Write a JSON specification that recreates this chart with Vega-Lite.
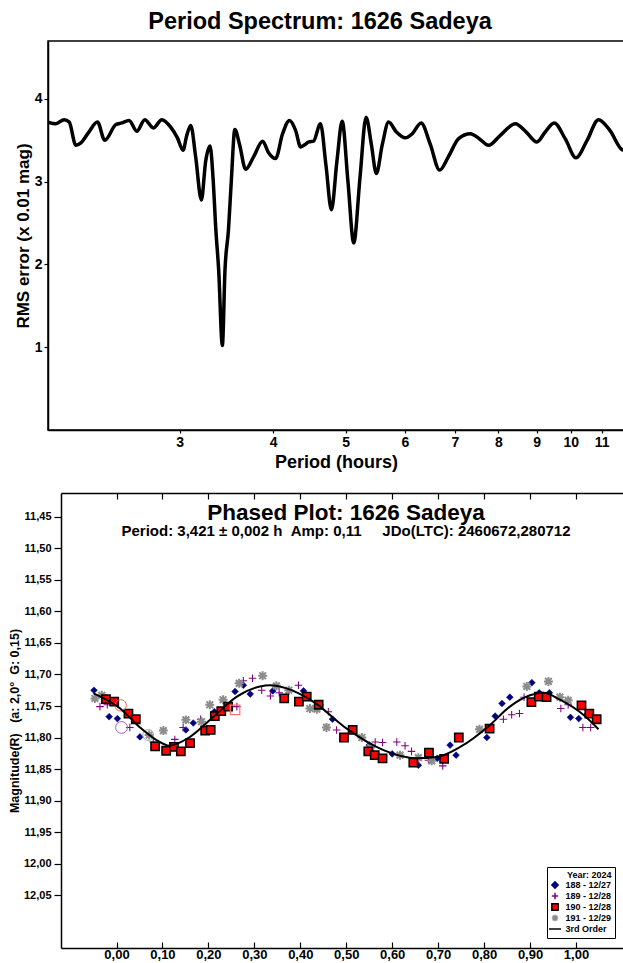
{
  "$schema": "https://vega.github.io/schema/vega-lite/v6.json",
  "padding": {"left": 8, "top": 8, "right": 0, "bottom": 0},
  "background": "white",
  "spacing": 20,
  "resolve": {"legend": {"shape": "independent", "fill": "independent", "stroke": "independent"}},
  "config": {
    "font": "Liberation Sans",
    "view": {"stroke": "black", "strokeWidth": 1.5},
    "axis": {
      "grid": false,
      "domainColor": "black",
      "domainWidth": 1.5,
      "tickColor": "black",
      "tickWidth": 1.2,
      "labelColor": "black",
      "labelFontWeight": "bold",
      "titleColor": "black",
      "titleFontWeight": "bold",
      "labelFlush": false,
      "labelOverlap": false
    },
    "legend": {
      "orient": "none", "legendX": 499, "legendY": 374,
      "titleFontSize": 9, "titleFontWeight": "bold", "titleColor": "black", "titleAnchor": "end", "titlePadding": 1,
      "labelFontSize": 9, "labelFontWeight": "bold", "labelColor": "black", "labelOffset": 6,
      "rowPadding": -4, "padding": 3.5, "strokeColor": "black", "fillColor": "white",
      "symbolSize": 40, "symbolStrokeWidth": 1.5, "symbolOpacity": 1
    },
    "title": {"color": "black", "fontWeight": "bold", "subtitleColor": "black", "subtitleFontWeight": "bold"}
  },
  "datasets": {
    "spectrum": [
      {"period": 2.0, "rms": 3.72}, {"period": 2.049, "rms": 3.70}, {"period": 2.102, "rms": 3.75},
      {"period": 2.135, "rms": 3.72}, {"period": 2.179, "rms": 3.44}, {"period": 2.213, "rms": 3.47},
      {"period": 2.268, "rms": 3.60}, {"period": 2.329, "rms": 3.72}, {"period": 2.382, "rms": 3.50},
      {"period": 2.465, "rms": 3.69}, {"period": 2.510, "rms": 3.71}, {"period": 2.567, "rms": 3.74},
      {"period": 2.629, "rms": 3.61}, {"period": 2.694, "rms": 3.75}, {"period": 2.767, "rms": 3.65},
      {"period": 2.839, "rms": 3.75}, {"period": 2.918, "rms": 3.66}, {"period": 2.979, "rms": 3.53},
      {"period": 3.031, "rms": 3.38}, {"period": 3.064, "rms": 3.55}, {"period": 3.104, "rms": 3.68},
      {"period": 3.151, "rms": 3.30}, {"period": 3.207, "rms": 2.78}, {"period": 3.250, "rms": 3.25},
      {"period": 3.294, "rms": 3.43}, {"period": 3.324, "rms": 3.05}, {"period": 3.353, "rms": 2.42},
      {"period": 3.382, "rms": 1.94}, {"period": 3.421, "rms": 1.02}, {"period": 3.449, "rms": 1.94},
      {"period": 3.486, "rms": 2.42}, {"period": 3.517, "rms": 3.02}, {"period": 3.555, "rms": 3.63},
      {"period": 3.607, "rms": 3.45}, {"period": 3.675, "rms": 3.15}, {"period": 3.766, "rms": 3.30},
      {"period": 3.872, "rms": 3.49}, {"period": 3.944, "rms": 3.35}, {"period": 4.030, "rms": 3.28},
      {"period": 4.118, "rms": 3.58}, {"period": 4.207, "rms": 3.74}, {"period": 4.286, "rms": 3.62},
      {"period": 4.353, "rms": 3.42}, {"period": 4.397, "rms": 3.44}, {"period": 4.465, "rms": 3.48},
      {"period": 4.529, "rms": 3.49}, {"period": 4.627, "rms": 3.70}, {"period": 4.706, "rms": 3.20},
      {"period": 4.786, "rms": 2.66}, {"period": 4.868, "rms": 3.25}, {"period": 4.947, "rms": 3.73},
      {"period": 5.036, "rms": 3.00}, {"period": 5.126, "rms": 2.26}, {"period": 5.226, "rms": 3.05},
      {"period": 5.325, "rms": 3.78}, {"period": 5.412, "rms": 3.45}, {"period": 5.496, "rms": 3.10},
      {"period": 5.598, "rms": 3.45}, {"period": 5.707, "rms": 3.72}, {"period": 5.846, "rms": 3.60},
      {"period": 6.008, "rms": 3.53}, {"period": 6.140, "rms": 3.58}, {"period": 6.307, "rms": 3.71},
      {"period": 6.489, "rms": 3.45}, {"period": 6.677, "rms": 3.14}, {"period": 6.859, "rms": 3.30},
      {"period": 7.079, "rms": 3.52}, {"period": 7.338, "rms": 3.58}, {"period": 7.544, "rms": 3.52},
      {"period": 7.762, "rms": 3.44}, {"period": 8.050, "rms": 3.56}, {"period": 8.429, "rms": 3.70},
      {"period": 8.718, "rms": 3.60}, {"period": 9.007, "rms": 3.48}, {"period": 9.243, "rms": 3.60},
      {"period": 9.501, "rms": 3.71}, {"period": 9.829, "rms": 3.52}, {"period": 10.16, "rms": 3.29},
      {"period": 10.515, "rms": 3.50}, {"period": 10.89, "rms": 3.75}, {"period": 11.28, "rms": 3.62},
      {"period": 11.70, "rms": 3.39}, {"period": 11.78, "rms": 3.38}
    ],
    "obs": [
      {"series": "188 - 12/27", "phase": -0.049, "mag": 11.725},
      {"series": "188 - 12/27", "phase": -0.016, "mag": 11.767},
      {"series": "188 - 12/27", "phase": 0.002, "mag": 11.770},
      {"series": "188 - 12/27", "phase": 0.051, "mag": 11.799},
      {"series": "188 - 12/27", "phase": 0.085, "mag": 11.816},
      {"series": "188 - 12/27", "phase": 0.151, "mag": 11.788},
      {"series": "188 - 12/27", "phase": 0.167, "mag": 11.777},
      {"series": "188 - 12/27", "phase": 0.213, "mag": 11.759},
      {"series": "188 - 12/27", "phase": 0.258, "mag": 11.727},
      {"series": "188 - 12/27", "phase": 0.276, "mag": 11.717},
      {"series": "188 - 12/27", "phase": 0.291, "mag": 11.731},
      {"series": "188 - 12/27", "phase": 0.340, "mag": 11.726},
      {"series": "188 - 12/27", "phase": 0.407, "mag": 11.726},
      {"series": "188 - 12/27", "phase": 0.443, "mag": 11.748},
      {"series": "188 - 12/27", "phase": 0.470, "mag": 11.771},
      {"series": "188 - 12/27", "phase": 0.550, "mag": 11.812},
      {"series": "188 - 12/27", "phase": 0.600, "mag": 11.826},
      {"series": "188 - 12/27", "phase": 0.657, "mag": 11.844},
      {"series": "188 - 12/27", "phase": 0.698, "mag": 11.833},
      {"series": "188 - 12/27", "phase": 0.726, "mag": 11.812},
      {"series": "188 - 12/27", "phase": 0.739, "mag": 11.828},
      {"series": "188 - 12/27", "phase": 0.806, "mag": 11.800},
      {"series": "188 - 12/27", "phase": 0.824, "mag": 11.766},
      {"series": "188 - 12/27", "phase": 0.839, "mag": 11.746},
      {"series": "188 - 12/27", "phase": 0.856, "mag": 11.736},
      {"series": "188 - 12/27", "phase": 0.904, "mag": 11.713},
      {"series": "188 - 12/27", "phase": 0.920, "mag": 11.729},
      {"series": "188 - 12/27", "phase": 0.942, "mag": 11.729},
      {"series": "188 - 12/27", "phase": 0.988, "mag": 11.768},
      {"series": "188 - 12/27", "phase": 1.006, "mag": 11.770},
      {"series": "188 - 12/27", "phase": 1.023, "mag": 11.764},
      {"series": "189 - 12/28", "phase": -0.036, "mag": 11.751},
      {"series": "189 - 12/28", "phase": -0.020, "mag": 11.748},
      {"series": "189 - 12/28", "phase": 0.029, "mag": 11.784},
      {"series": "189 - 12/28", "phase": 0.080, "mag": 11.807},
      {"series": "189 - 12/28", "phase": 0.127, "mag": 11.803},
      {"series": "189 - 12/28", "phase": 0.145, "mag": 11.784},
      {"series": "189 - 12/28", "phase": 0.183, "mag": 11.771},
      {"series": "189 - 12/28", "phase": 0.262, "mag": 11.751},
      {"series": "189 - 12/28", "phase": 0.276, "mag": 11.710},
      {"series": "189 - 12/28", "phase": 0.296, "mag": 11.706},
      {"series": "189 - 12/28", "phase": 0.316, "mag": 11.725},
      {"series": "189 - 12/28", "phase": 0.335, "mag": 11.734},
      {"series": "189 - 12/28", "phase": 0.354, "mag": 11.729},
      {"series": "189 - 12/28", "phase": 0.396, "mag": 11.717},
      {"series": "189 - 12/28", "phase": 0.461, "mag": 11.759},
      {"series": "189 - 12/28", "phase": 0.479, "mag": 11.788},
      {"series": "189 - 12/28", "phase": 0.563, "mag": 11.807},
      {"series": "189 - 12/28", "phase": 0.579, "mag": 11.808},
      {"series": "189 - 12/28", "phase": 0.610, "mag": 11.807},
      {"series": "189 - 12/28", "phase": 0.628, "mag": 11.813},
      {"series": "189 - 12/28", "phase": 0.642, "mag": 11.822},
      {"series": "189 - 12/28", "phase": 0.679, "mag": 11.836},
      {"series": "189 - 12/28", "phase": 0.710, "mag": 11.845},
      {"series": "189 - 12/28", "phase": 0.842, "mag": 11.771},
      {"series": "189 - 12/28", "phase": 0.860, "mag": 11.764},
      {"series": "189 - 12/28", "phase": 0.877, "mag": 11.762},
      {"series": "189 - 12/28", "phase": 0.887, "mag": 11.736},
      {"series": "189 - 12/28", "phase": 0.967, "mag": 11.754},
      {"series": "189 - 12/28", "phase": 0.983, "mag": 11.748},
      {"series": "189 - 12/28", "phase": 1.015, "mag": 11.784},
      {"series": "189 - 12/28", "phase": 1.032, "mag": 11.784},
      {"series": "191 - 12/29", "phase": -0.047, "mag": 11.738},
      {"series": "191 - 12/29", "phase": -0.032, "mag": 11.733},
      {"series": "191 - 12/29", "phase": -0.007, "mag": 11.743},
      {"series": "191 - 12/29", "phase": 0.071, "mag": 11.796},
      {"series": "191 - 12/29", "phase": 0.102, "mag": 11.789},
      {"series": "191 - 12/29", "phase": 0.151, "mag": 11.772},
      {"series": "191 - 12/29", "phase": 0.185, "mag": 11.775},
      {"series": "191 - 12/29", "phase": 0.203, "mag": 11.748},
      {"series": "191 - 12/29", "phase": 0.232, "mag": 11.740},
      {"series": "191 - 12/29", "phase": 0.267, "mag": 11.714},
      {"series": "191 - 12/29", "phase": 0.318, "mag": 11.702},
      {"series": "191 - 12/29", "phase": 0.348, "mag": 11.718},
      {"series": "191 - 12/29", "phase": 0.375, "mag": 11.725},
      {"series": "191 - 12/29", "phase": 0.421, "mag": 11.754},
      {"series": "191 - 12/29", "phase": 0.436, "mag": 11.755},
      {"series": "191 - 12/29", "phase": 0.457, "mag": 11.784},
      {"series": "191 - 12/29", "phase": 0.534, "mag": 11.800},
      {"series": "191 - 12/29", "phase": 0.553, "mag": 11.816},
      {"series": "191 - 12/29", "phase": 0.617, "mag": 11.828},
      {"series": "191 - 12/29", "phase": 0.657, "mag": 11.832},
      {"series": "191 - 12/29", "phase": 0.686, "mag": 11.837},
      {"series": "191 - 12/29", "phase": 0.790, "mag": 11.787},
      {"series": "191 - 12/29", "phase": 0.893, "mag": 11.719},
      {"series": "191 - 12/29", "phase": 0.940, "mag": 11.711},
      {"series": "191 - 12/29", "phase": 0.965, "mag": 11.736},
      {"series": "191 - 12/29", "phase": 0.983, "mag": 11.741},
      {"series": "190 - 12/28", "phase": -0.023, "mag": 11.739},
      {"series": "190 - 12/28", "phase": -0.005, "mag": 11.743},
      {"series": "190 - 12/28", "phase": 0.026, "mag": 11.762},
      {"series": "190 - 12/28", "phase": 0.042, "mag": 11.771},
      {"series": "190 - 12/28", "phase": 0.084, "mag": 11.814},
      {"series": "190 - 12/28", "phase": 0.108, "mag": 11.821},
      {"series": "190 - 12/28", "phase": 0.125, "mag": 11.815},
      {"series": "190 - 12/28", "phase": 0.140, "mag": 11.822},
      {"series": "190 - 12/28", "phase": 0.160, "mag": 11.809},
      {"series": "190 - 12/28", "phase": 0.193, "mag": 11.789},
      {"series": "190 - 12/28", "phase": 0.205, "mag": 11.788},
      {"series": "190 - 12/28", "phase": 0.214, "mag": 11.766},
      {"series": "190 - 12/28", "phase": 0.228, "mag": 11.758},
      {"series": "190 - 12/28", "phase": 0.243, "mag": 11.751},
      {"series": "190 - 12/28", "phase": 0.365, "mag": 11.738},
      {"series": "190 - 12/28", "phase": 0.397, "mag": 11.743},
      {"series": "190 - 12/28", "phase": 0.414, "mag": 11.735},
      {"series": "190 - 12/28", "phase": 0.440, "mag": 11.748},
      {"series": "190 - 12/28", "phase": 0.495, "mag": 11.800},
      {"series": "190 - 12/28", "phase": 0.514, "mag": 11.788},
      {"series": "190 - 12/28", "phase": 0.548, "mag": 11.822},
      {"series": "190 - 12/28", "phase": 0.562, "mag": 11.828},
      {"series": "190 - 12/28", "phase": 0.579, "mag": 11.833},
      {"series": "190 - 12/28", "phase": 0.646, "mag": 11.840},
      {"series": "190 - 12/28", "phase": 0.680, "mag": 11.824},
      {"series": "190 - 12/28", "phase": 0.713, "mag": 11.834},
      {"series": "190 - 12/28", "phase": 0.745, "mag": 11.800},
      {"series": "190 - 12/28", "phase": 0.812, "mag": 11.786},
      {"series": "190 - 12/28", "phase": 0.903, "mag": 11.744},
      {"series": "190 - 12/28", "phase": 0.919, "mag": 11.735},
      {"series": "190 - 12/28", "phase": 0.936, "mag": 11.736},
      {"series": "190 - 12/28", "phase": 1.012, "mag": 11.749},
      {"series": "190 - 12/28", "phase": 1.029, "mag": 11.762},
      {"series": "190 - 12/28", "phase": 1.045, "mag": 11.771}
    ],
    "fit": [
      {"phase": -0.050, "mag": 11.730}, {"phase": 0.008, "mag": 11.754}, {"phase": 0.051, "mag": 11.784},
      {"phase": 0.087, "mag": 11.804}, {"phase": 0.115, "mag": 11.813}, {"phase": 0.160, "mag": 11.799},
      {"phase": 0.211, "mag": 11.767}, {"phase": 0.262, "mag": 11.735}, {"phase": 0.312, "mag": 11.719},
      {"phase": 0.334, "mag": 11.717}, {"phase": 0.370, "mag": 11.722}, {"phase": 0.428, "mag": 11.743},
      {"phase": 0.501, "mag": 11.786}, {"phase": 0.581, "mag": 11.820}, {"phase": 0.653, "mag": 11.833},
      {"phase": 0.697, "mag": 11.831}, {"phase": 0.748, "mag": 11.815}, {"phase": 0.813, "mag": 11.780},
      {"phase": 0.856, "mag": 11.751}, {"phase": 0.900, "mag": 11.733}, {"phase": 0.929, "mag": 11.729},
      {"phase": 0.965, "mag": 11.740}, {"phase": 1.016, "mag": 11.764}, {"phase": 1.049, "mag": 11.787}
    ]
  },
  "vconcat": [
    {
      "width": 576,
      "height": 389,
      "title": {"text": "Period Spectrum: 1626 Sadeya", "fontSize": 23.5, "baseline": "alphabetic", "offset": -11, "dx": -16},
      "data": {"name": "spectrum"},
      "mark": {"type": "line", "color": "black", "strokeWidth": 3.5, "interpolate": "monotone", "clip": true},
      "encoding": {
        "x": {
          "field": "period", "type": "quantitative",
          "scale": {"type": "log", "domain": [2, 11.78], "nice": false},
          "axis": {"values": [3, 4, 5, 6, 7, 8, 9, 10, 11], "format": "d", "title": "Period (hours)",
                   "labelFontSize": 14, "titleFontSize": 18, "tickSize": 3, "labelPadding": 2, "titlePadding": 4}
        },
        "y": {
          "field": "rms", "type": "quantitative",
          "scale": {"domain": [0, 4.7], "nice": false, "zero": false},
          "axis": {"values": [1, 2, 3, 4], "title": "RMS error (x 0.01 mag)",
                   "labelFontSize": 14, "titleFontSize": 17, "tickSize": 4, "labelPadding": 2, "titlePadding": 2}
        }
      }
    },
    {
      "width": 576,
      "height": 455,
      "view": {"stroke": null},
      "title": {
        "text": "Phased Plot: 1626 Sadeya",
        "subtitle": "Period: 3,421 ± 0,002 h\u00a0\u00a0Amp: 0,11\u00a0\u00a0\u00a0\u00a0\u00a0JDo(LTC): 2460672,280712",
        "fontSize": 22.5, "subtitleFontSize": 15, "subtitlePadding": 0, "offset": 0, "dy": 47, "dx": 10
      },
      "layer": [
        {
          "data": {"name": "obs"},
          "mark": {"type": "point", "opacity": 1},
          "encoding": {
            "x": {
              "field": "phase", "type": "quantitative",
              "scale": {"domain": [-0.1208, 1.1045], "range": [13, 576], "nice": false, "zero": false},
              "axis": {"orient": "bottom", "values": [0, 0.1, 0.2, 0.3, 0.4, 0.5, 0.6, 0.7, 0.8, 0.9, 1.0],
                       "labelExpr": "replace(format(datum.value, '.2f'), '.', ',')", "title": null,
                       "labelFontSize": 13, "tickSize": -6, "labelPadding": 6, "labelOverlap": false}
            },
            "y": {
              "field": "mag", "type": "quantitative",
              "scale": {"domain": [11.412, 12.134], "reverse": true, "nice": false, "zero": false},
              "axis": {"tickCount": 15,
                       "labelExpr": "datum.value > 12.07 ? '' : replace(format(datum.value, '.2f'), '.', ',')",
                       "tickOpacity": {"condition": {"test": "datum.value > 12.07", "value": 0}, "value": 1},
                       "labelOverlap": false, "labelBound": false,
                       "title": "Magnitude(R)\u00a0\u00a0\u00a0(a: 2,0°\u00a0\u00a0G: 0,15)", "offset": -13,
                       "labelFontSize": 11, "titleFontSize": 12.5, "tickSize": 7, "labelPadding": 3, "titlePadding": 1.5}
            },
            "shape": {
              "field": "series", "type": "nominal", "title": "Year: 2024",
              "scale": {
                "domain": ["188 - 12/27", "189 - 12/28", "190 - 12/28", "191 - 12/29", "3rd Order"],
                "range": ["diamond", "M-1,0H1M0,-1V1", "square", "M-1,0H1M0,-1V1M-0.75,-0.75L0.75,0.75M-0.75,0.75L0.75,-0.75", "M-1.9,0H1.9"]
              }
            },
            "fill": {
              "field": "series", "type": "nominal", "title": "Year: 2024",
              "scale": {"domain": ["188 - 12/27", "189 - 12/28", "190 - 12/28", "191 - 12/29", "3rd Order"],
                        "range": ["#000080", "#800080", "#ff0000", "#8c8c8c", "#000000"]}
            },
            "stroke": {
              "field": "series", "type": "nominal", "title": "Year: 2024",
              "scale": {"domain": ["188 - 12/27", "189 - 12/28", "190 - 12/28", "191 - 12/29", "3rd Order"],
                        "range": ["#000080", "#800080", "#000000", "#8c8c8c", "#000000"]}
            },
            "size": {
              "field": "series", "type": "nominal", "legend": null,
              "scale": {"domain": ["188 - 12/27", "189 - 12/28", "190 - 12/28", "191 - 12/29"],
                        "range": [45, 80, 72, 110]}
            },
            "strokeWidth": {
              "field": "series", "type": "nominal", "legend": null,
              "scale": {"domain": ["188 - 12/27", "189 - 12/28", "190 - 12/28", "191 - 12/29"],
                        "range": [0.6, 2, 1.5, 2.2]}
            }
          }
        },
        {
          "data": {"values": [{"phase": 0.011, "mag": 11.784}]},
          "mark": {"type": "point", "shape": "circle", "filled": false, "color": "#b060c0", "strokeWidth": 1, "size": 140, "opacity": 1},
          "encoding": {"x": {"field": "phase", "type": "quantitative", "axis": null}, "y": {"field": "mag", "type": "quantitative"}}
        },
        {
          "data": {"values": [{"phase": 0.009, "mag": 11.749}]},
          "mark": {"type": "point", "shape": "circle", "filled": false, "color": "#ff6060", "strokeWidth": 1, "size": 130, "opacity": 1},
          "encoding": {"x": {"field": "phase", "type": "quantitative", "axis": null}, "y": {"field": "mag", "type": "quantitative"}}
        },
        {
          "data": {"values": [{"phase": 0.069, "mag": 11.796}]},
          "mark": {"type": "point", "shape": "circle", "filled": false, "color": "#a8a8a8", "strokeWidth": 1, "size": 120, "opacity": 1},
          "encoding": {"x": {"field": "phase", "type": "quantitative", "axis": null}, "y": {"field": "mag", "type": "quantitative"}}
        },
        {
          "data": {"values": [{"phase": 0.258, "mag": 11.756}]},
          "mark": {"type": "point", "shape": "square", "filled": false, "color": "#ff7070", "strokeWidth": 1.2, "size": 90, "opacity": 1},
          "encoding": {"x": {"field": "phase", "type": "quantitative", "axis": null}, "y": {"field": "mag", "type": "quantitative"}}
        },
        {
          "data": {"name": "fit"},
          "mark": {"type": "line", "color": "black", "strokeWidth": 2, "interpolate": "monotone"},
          "encoding": {
            "x": {
              "field": "phase", "type": "quantitative",
              "axis": {"orient": "top", "values": [0, 0.1, 0.2, 0.3, 0.4, 0.5, 0.6, 0.7, 0.8, 0.9, 1.0],
                       "labels": false, "title": null, "tickSize": -6}
            },
            "y": {"field": "mag", "type": "quantitative"}
          }
        }
      ],
      "resolve": {"axis": {"x": "independent"}}
    }
  ]
}
